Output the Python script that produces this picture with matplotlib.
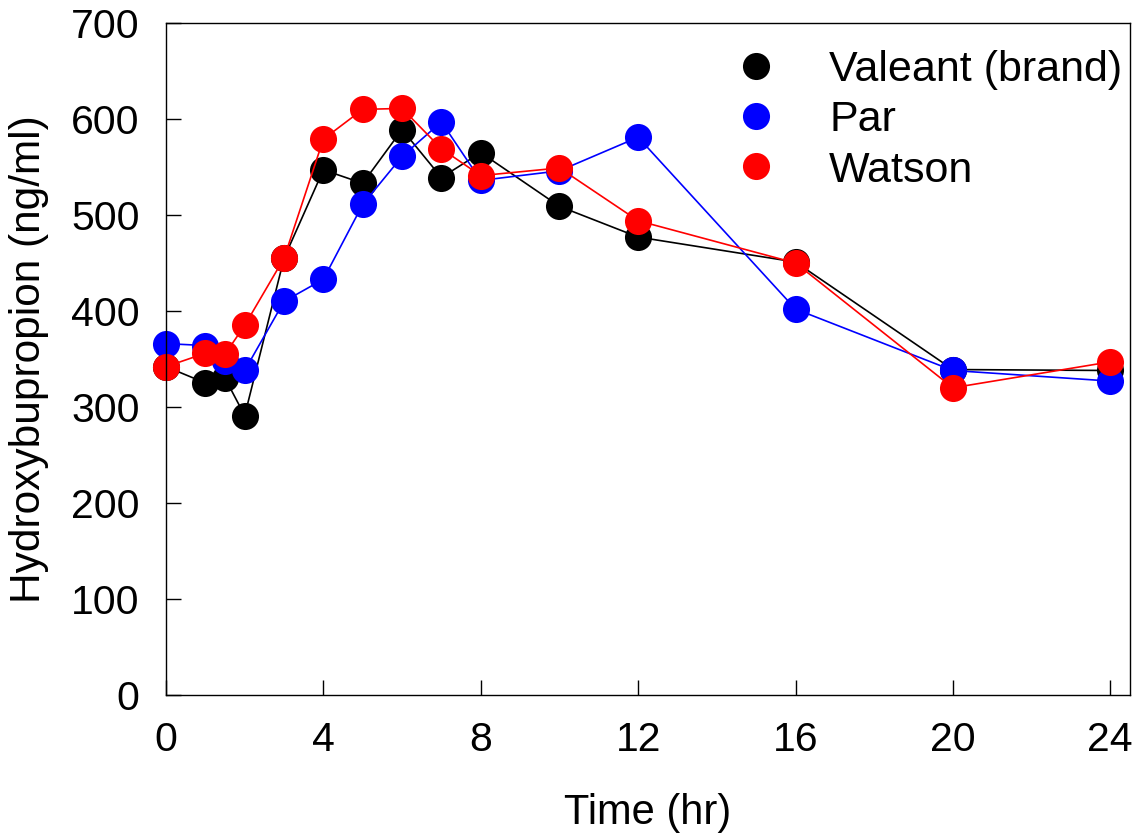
import numpy as np
import matplotlib
matplotlib.use('Agg')
import matplotlib.pyplot as plt
from matplotlib.lines import Line2D

plt.rcParams['font.family'] = ['Liberation Sans', 'DejaVu Sans']

# Sampling times (hr)
time_hr = [0, 1, 1.5, 2, 3, 4, 5, 6, 7, 8, 10, 12, 16, 20, 24]

# Hydroxybupropion concentration (ng/ml)
valeant = [342, 325, 330, 291, 455, 547, 533, 589, 539, 565, 509, 477, 451, 339, 338]
par = [366, 364, 348, 338, 410, 433, 511, 561, 597, 536, 546, 581, 402, 338, 327]
watson = [342, 356, 355, 385, 455, 579, 610, 611, 569, 541, 549, 494, 450, 320, 347]

series_names = ['Valeant (brand)', 'Par', 'Watson']
series_colors = ['black', 'blue', 'red']

x_ticks = [0, 4, 8, 12, 16, 20, 24]
y_ticks = [0, 100, 200, 300, 400, 500, 600, 700]

fs = 29.5

fig = plt.figure(figsize=(11.34, 8.36), dpi=100)
ax = fig.add_axes([0.1464, 0.1687, 0.85, 0.8038])

for vals, color in zip([valeant, par, watson], series_colors):
    ax.plot(time_hr, vals, color=color, linewidth=1.2, marker='o',
            markersize=19.5, markeredgewidth=0, clip_on=False)

ax.set_xlim(0, 24.5)
ax.set_ylim(0, 700)
ax.set_xticks(x_ticks)
ax.set_yticks(y_ticks)
ax.tick_params(direction='in', length=11, width=1, labelsize=fs, pad=19,
               top=False, right=False)
for sp in ax.spines.values():
    sp.set_linewidth(1)

ax.set_xlabel('Time (hr)', fontsize=30, labelpad=24)
ax.set_ylabel('Hydroxybupropion (ng/ml)', fontsize=30.5, labelpad=16)

handles = [Line2D([], [], linestyle='none', marker='o', markersize=19.5,
                  markeredgewidth=0, color=c) for c in series_colors]
ax.legend(handles, series_names, loc='upper right', bbox_to_anchor=(0.992, 0.960),
          frameon=False, fontsize=31, handlelength=1, handletextpad=1.2,
          labelspacing=0.24, borderpad=0, borderaxespad=0)

fig.savefig('out.png', dpi=100)
